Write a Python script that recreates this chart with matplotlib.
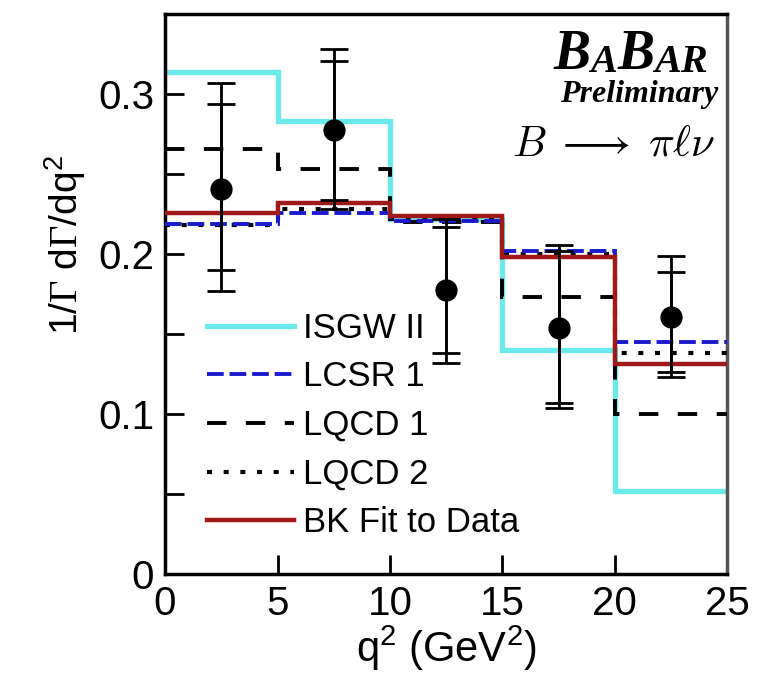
import numpy as np
import matplotlib
matplotlib.use("Agg")
import matplotlib.pyplot as plt
from matplotlib.lines import Line2D

plt.rcParams['font.family'] = ['Liberation Sans', 'DejaVu Sans']
plt.rcParams['mathtext.fontset'] = 'custom'
plt.rcParams['mathtext.rm'] = 'Liberation Sans'
plt.rcParams['mathtext.it'] = 'Liberation Sans:italic'
plt.rcParams['mathtext.sf'] = 'Liberation Serif'

# q^2 bins (GeV^2)
edges = [0, 5, 10, 15, 20, 25]
centers = [2.5, 7.5, 12.5, 17.5, 22.5]

# model predictions per bin
isgw2 = [0.314, 0.283, 0.222, 0.140, 0.052]
lcsr1 = [0.219, 0.226, 0.221, 0.202, 0.145]
lqcd1 = [0.266, 0.253, 0.220, 0.173, 0.100]
lqcd2 = [0.218, 0.228, 0.222, 0.200, 0.138]
bk_fit = [0.226, 0.232, 0.224, 0.198, 0.131]

# data with stat and total errors
data_y = [0.241, 0.2775, 0.1775, 0.154, 0.1606]
stat_up = [0.053, 0.0435, 0.0395, 0.048, 0.0284]
stat_dn = [0.051, 0.0435, 0.0395, 0.047, 0.0346]
tot_up = [0.066, 0.0505, 0.0445, 0.0516, 0.0384]
tot_dn = [0.064, 0.0495, 0.0455, 0.050, 0.0376]

cyan = '#6aeaea'
blue = '#1a1acc'
red = '#a01818'
ls_lcsr = (0, (4.3, 1.5))
ls_lqcd1 = (0, (5, 5))
ls_lqcd2 = (0, (1.2, 2.8))

fig = plt.figure(figsize=(7.68, 6.73), dpi=100)
ax = fig.add_axes([0.215, 0.147, 0.732, 0.832])

ax.stairs(isgw2, edges, baseline=None, color=cyan, lw=3.8, zorder=2)
ax.stairs(lqcd1, edges, baseline=None, color='black', lw=2.8, ls=ls_lqcd1, zorder=3)
ax.stairs(lqcd2, edges, baseline=None, color='black', lw=3, ls=ls_lqcd2, zorder=3)
ax.stairs(lcsr1, edges, baseline=None, color=blue, lw=2.8, ls=ls_lcsr, zorder=4)
ax.stairs(bk_fit, edges, baseline=None, color=red, lw=3.2, zorder=5)

ax.errorbar(centers, data_y, yerr=[tot_dn, tot_up], fmt='none', ecolor='black',
            elinewidth=2, capsize=10, capthick=2, zorder=6)
ax.errorbar(centers, data_y, yerr=[stat_dn, stat_up], fmt='o', color='black',
            ms=15, elinewidth=2, capsize=10, capthick=2, zorder=7)

ax.set_xlim(0, 25)
ax.set_ylim(0, 0.35)
ax.set_xticks([0, 5, 10, 15, 20, 25])
ax.set_yticks([0, 0.1, 0.2, 0.3])
ax.set_yticklabels(['0', '0.1', '0.2', '0.3'])
ax.set_yticks([0.05, 0.15, 0.25], minor=True)
ax.tick_params(axis='both', which='both', direction='in', labelsize=29,
               width=2, top=False, right=False)
ax.tick_params(axis='both', which='major', length=14, pad=8)
ax.tick_params(axis='y', which='minor', length=14)
for s in ax.spines.values():
    s.set_linewidth(2.5)
ax.spines['right'].set_color('#555555')

ax.set_xlabel(r'q$^2$ (GeV$^2$)', fontsize=30, labelpad=0)
ax.set_ylabel(r'1/$\mathsf{\Gamma}$ d$\mathsf{\Gamma}$/dq$^2$', fontsize=28)
ax.yaxis.set_label_coords(-0.137, 0.5875)

labels = ['ISGW II', 'LCSR 1', 'LQCD 1', 'LQCD 2', 'BK Fit to Data']
handles = [
    Line2D([], [], color=cyan, lw=3.8),
    Line2D([], [], color=blue, lw=2.8, ls=ls_lcsr),
    Line2D([], [], color='black', lw=2.8, ls=ls_lqcd1),
    Line2D([], [], color='black', lw=3, ls=ls_lqcd2),
    Line2D([], [], color=red, lw=3.2),
]
ax.legend(handles, labels, loc='lower left', bbox_to_anchor=(0.075, 0.062),
          frameon=False, fontsize=25, handlelength=2.5, handletextpad=0.25,
          labelspacing=0.45, borderaxespad=0, borderpad=0)

# BaBar logo, built right to left
serif = ['Liberation Serif', 'DejaVu Serif']
logo = dict(fontstyle='italic', fontweight='bold', family=serif)
t = ax.text(0.966, 0.896, 'AR', transform=ax.transAxes, fontsize=29,
            ha='right', va='baseline', **logo)
for s, fs in [('B', 40), ('A', 29), ('B', 40)]:
    t = ax.annotate(s, xy=(0, 0), xycoords=t, xytext=(0, 0), textcoords='offset points',
                    fontsize=fs, ha='right', va='bottom', **logo)
ax.text(0.984, 0.843, 'Preliminary', transform=ax.transAxes, fontsize=23,
        ha='right', va='baseline', **logo)
ax.text(0.979, 0.748, r'$B\;\longrightarrow\;\pi\ell\nu$', transform=ax.transAxes,
        fontsize=31, ha='right', va='baseline', math_fontfamily='cm')

fig.savefig('out.png', dpi=100)
